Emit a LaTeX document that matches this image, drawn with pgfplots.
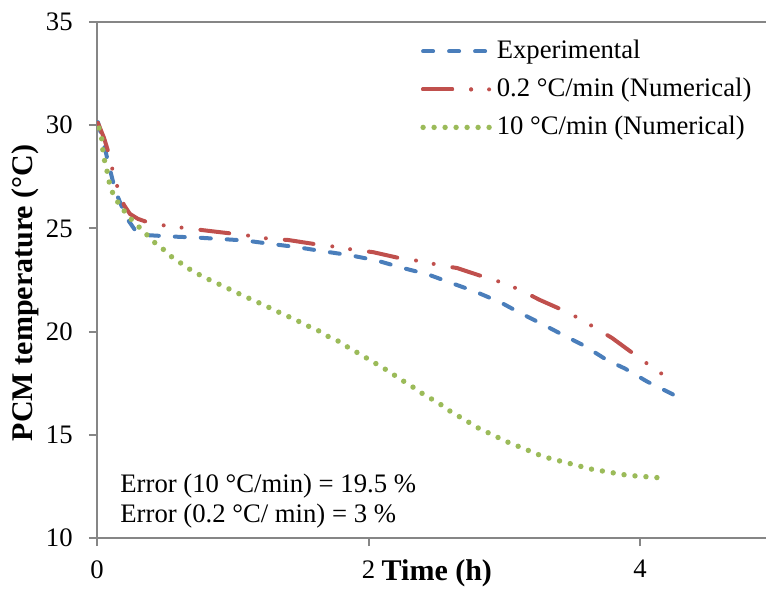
\documentclass[border=0pt]{standalone}
\usepackage{fontspec}
\setmainfont{Liberation Serif}
\usepackage{pgfplots}
\pgfplotsset{compat=1.18}
\definecolor{xblue}{RGB}{74,126,187}
\definecolor{xred}{RGB}{192,80,77}
\definecolor{xgreen}{RGB}{155,187,89}
\definecolor{axgray}{RGB}{134,134,134}
\newcommand\cf{\fontsize{13.35bp}{16bp}\selectfont}
\newcommand\tf{\fontsize{15bp}{18bp}\selectfont}
\pgfplotsset{redlegend/.style={legend image code/.code={\draw[##1] (0bp,0bp) -- (26bp,0bp); \path (0bp,0bp) -- (36bp,0bp);}}}

\pgfplotstableread{
x y
0.007 30.15
0.066 28.65
0.133 26.86
0.214 25.55
0.280 24.92
0.354 24.68
0.538 24.61
0.722 24.56
0.906 24.49
1.098 24.41
1.289 24.24
1.466 24.10
1.657 23.90
1.864 23.70
2.063 23.44
2.254 23.08
2.438 22.77
2.600 22.38
2.785 21.94
2.969 21.43
3.112 20.92
3.293 20.32
3.455 19.76
3.580 19.35
3.757 18.62
3.889 18.21
4.052 17.58
4.236 16.98
4.270 16.83
}\expdata

\pgfplotstableread{
x y
0.007 30.11
0.052 29.38
0.088 28.60
0.118 27.73
0.155 26.91
0.199 26.13
0.243 25.70
0.302 25.46
0.390 25.26
0.516 25.12
0.648 25.02
0.773 24.92
1.017 24.73
1.142 24.63
1.274 24.49
1.407 24.44
1.643 24.20
1.768 24.10
1.901 23.95
2.033 23.85
2.262 23.51
2.394 23.41
2.519 23.22
2.652 23.08
2.873 22.60
2.998 22.35
3.116 22.02
3.263 21.53
3.462 20.95
3.573 20.56
3.683 20.13
3.794 19.69
3.985 18.77
4.096 18.24
4.206 17.75
}\numslow

\pgfplotstableread{
x y
0.015 29.86
0.037 29.28
0.044 28.70
0.059 28.17
0.081 27.59
0.096 27.01
0.133 26.47
0.177 26.04
0.236 25.55
0.295 25.16
0.354 24.78
0.420 24.34
0.486 24.00
0.552 23.61
0.626 23.28
0.692 22.98
0.773 22.69
0.847 22.45
0.928 22.21
1.002 21.97
1.083 21.72
1.164 21.48
1.245 21.24
1.319 21.00
1.400 20.76
1.481 20.51
1.554 20.27
1.635 20.03
1.709 19.74
1.790 19.50
1.856 19.21
1.937 18.91
2.011 18.62
2.085 18.33
2.158 18.04
2.232 17.70
2.306 17.41
2.379 17.07
2.453 16.78
2.527 16.49
2.600 16.15
2.674 15.86
2.748 15.57
2.821 15.28
2.902 15.04
2.976 14.80
3.057 14.55
3.138 14.36
3.219 14.12
3.300 13.92
3.381 13.78
3.470 13.63
3.551 13.49
3.639 13.34
3.720 13.25
3.808 13.15
3.897 13.05
3.978 13.00
4.066 12.96
4.155 12.91
}\numfast

\begin{document}
\cf
\begin{tikzpicture}
\useasboundingbox (0,0) rectangle (383bp,297.5bp);
\begin{axis}[
  at={(48.5bp,28.5bp)}, anchor=south west,
  scale only axis, width=334.5bp, height=258bp,
  xmin=0, xmax=4.928, ymin=10, ymax=35,
  axis x line*=bottom, axis y line*=left,
  axis line style={axgray, line width=1bp},
  xtick={0,2,4}, ytick={10,15,20,25,30},
  extra y ticks={35},
  extra y tick style={grid=major, major grid style={axgray, line width=1bp}},
  tick align=outside, major tick length=4bp,
  tick style={axgray, line width=1bp},
  /pgf/number format/assume math mode=true,
  tick label style={font=\cf, text=black},
  yticklabel style={anchor=east, inner sep=0pt, xshift=-8bp},
  xticklabel style={anchor=north, inner sep=0pt, yshift=-7bp},
  xlabel={\textbf{Time (h)}},
  xlabel style={at={(axis description cs:0.508,-0.069)}, anchor=center, font=\tf},
  ylabel={\textbf{PCM temperature (°C)}},
  ylabel style={at={(axis description cs:-0.1076,0.475)}, anchor=center, font=\tf},
  legend cell align=left,
  legend image code/.code={\draw[#1] (0bp,0bp) -- (36bp,0bp);},
  legend style={at={(axis description cs:0.4828,0.969)}, anchor=north west,
    draw=none, fill=none, inner sep=0pt, row sep=6bp, column sep=-0.5bp, font=\cf,
    nodes={inner sep=0pt, text height=10bp, text depth=3bp}},
]
\addplot[xblue, line width=2bp, line cap=round, dash pattern=on 5bp off 8bp] table {\expdata};
\addlegendentry{Experimental}
\addplot[xred, line width=2bp, line cap=round, dash pattern=on 14.5bp off 9.5bp on 0bp off 9bp on 0bp off 9.5bp, redlegend] table {\numslow};
\addlegendentry{0.2 °C/min (Numerical)}
\addplot[xgreen, line width=2.7bp, line cap=round, dash pattern=on 0bp off 5.5bp] table {\numfast};
\addlegendentry{10 °C/min (Numerical)}
\node[anchor=west, inner sep=0pt, font=\cf] at (axis description cs:0.0344,0.1000) {Error (10 °C/min) = 19.5 \%};
\node[anchor=west, inner sep=0pt, font=\cf] at (axis description cs:0.0344,0.0430) {Error (0.2 °C/ min) = 3 \%};
\end{axis}
\end{tikzpicture}
\end{document}
